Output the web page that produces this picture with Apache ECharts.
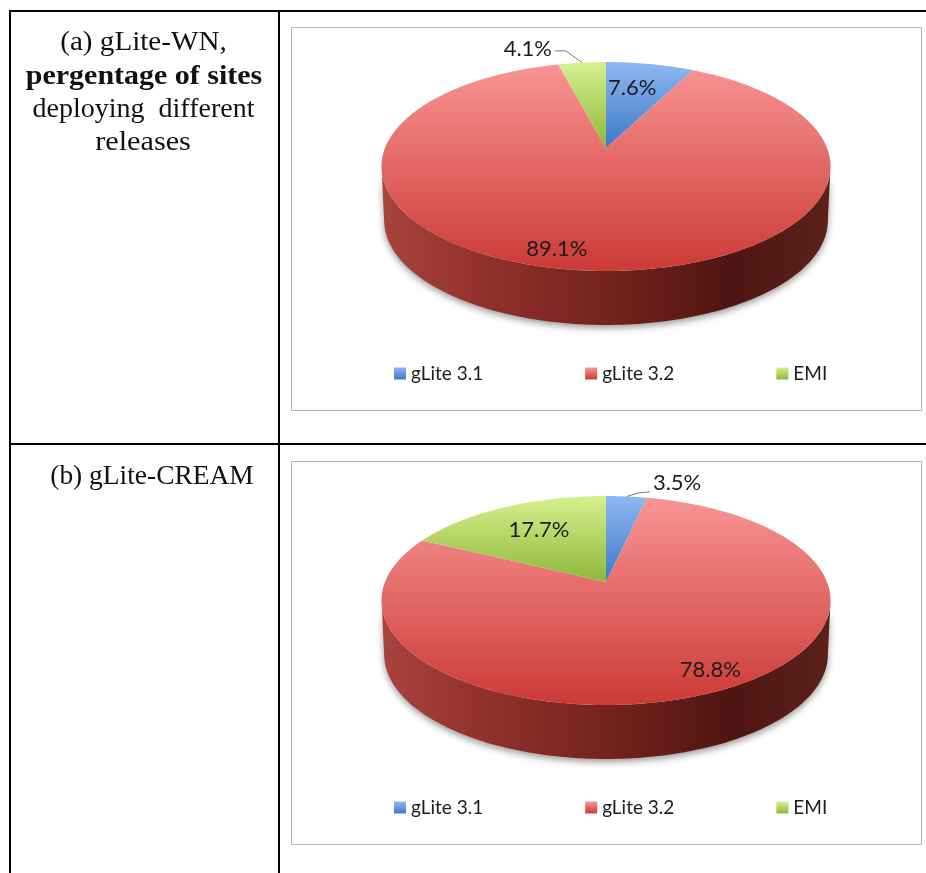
<!DOCTYPE html>
<html>
<head>
<meta charset="utf-8">
<style>html,body{margin:0;padding:0;background:#fff}#c{width:926px;height:873px}</style>
<script src="https://cdn.jsdelivr.net/npm/echarts@6/dist/echarts.min.js"></script>
</head>
<body>
<div id="c"></div>
<script>
// ---- data ----
var categories = ['gLite 3.1', 'gLite 3.2', 'EMI'];
var valuesWN = [7.6, 89.1, 4.1];
var valuesCREAM = [3.5, 78.8, 17.7];
var labelsWN = ['7.6%', '89.1%', '4.1%'];
var labelsCREAM = ['3.5%', '78.8%', '17.7%'];

// ---- label placement, in the plane of the pie (unit disc: x right, y towards the viewer) ----
var labelPlaneWN = [[0.132, -0.665], [-0.189, 0.85], [-0.428, -1.185]];
var labelPlaneCREAM = [[0.389, -1.185], [0.409, 0.75], [-0.334, -0.568]];

// ---- styles ----
var topStops = [
  [{o:0,c:'#8fb8f0'},{o:1,c:'#3a78c9'}],
  [{o:0,c:'#f99494'},{o:1,c:'#cb3a36'}],
  [{o:0,c:'#d6f08f'},{o:1,c:'#8fb83a'}]
];
var wallStops = [
  {o:0,c:'#a8433e'},{o:0.28,c:'#8c2d29'},{o:0.55,c:'#6f201c'},{o:0.78,c:'#4f1512'},{o:1,c:'#5c211b'}
];
function grad(stops){
  return new echarts.graphic.LinearGradient(0,0,0,1,stops.map(function(s){return {offset:s.o,color:s.c};}));
}

// ---- perspective of the pie plane ----
var PIE = {cx:606, a:221, b:101.2, p:-0.177, depth:54, lowerScale:0.988};
function project(u, v, y0){
  var w = 1 + PIE.p * v;
  return [PIE.cx + PIE.a * u / w, y0 + PIE.b * v / w];
}
function rim(theta, y0){ return project(Math.sin(theta), -Math.cos(theta), y0); }
function lowerRim(theta, y0){
  var pt = rim(theta, y0);
  return [PIE.cx + (pt[0]-PIE.cx)*PIE.lowerScale, pt[1] + PIE.depth];
}
var FRONT0 = Math.acos(PIE.p);           // widest point on the right
var FRONT1 = 2*Math.PI - FRONT0;         // widest point on the left

function sliceSeries(values, labels, planes, apexY, index){
  var total = values.reduce(function(s,x){return s+x;},0);
  var before = values.slice(0,index).reduce(function(s,x){return s+x;},0);
  return {
    type:'custom', name:categories[index], coordinateSystem:'none',
    itemStyle:{color:grad(topStops[index])},
    silent:true, animation:false,
    data:[[values[index]]],
    renderItem:function(params, api){
      var t0 = before/total*2*Math.PI;
      var t1 = t0 + api.value(0)/total*2*Math.PI;
      var children = [];
      // side wall: only the part of the slice on the front half
      var w0 = Math.max(t0,FRONT0), w1 = Math.min(t1,FRONT1);
      if (w1 > w0){
        var upper=[], lower=[], n=Math.ceil((w1-w0)/0.02);
        for (var i=0;i<=n;i++){
          var t=w0+(w1-w0)*i/n;
          upper.push(rim(t,apexY));
          lower.unshift(lowerRim(t,apexY));
        }
        children.push({
          type:'polygon', shape:{points:upper.concat(lower)},
          style:{
            fill:new echarts.graphic.LinearGradient(PIE.cx-224,0,PIE.cx+224,0,
              wallStops.map(function(s){return {offset:s.o,color:s.c};}),true),
            shadowBlur:7, shadowColor:'rgba(70,70,70,0.55)', shadowOffsetY:3
          }
        });
      }
      // top face
      var pts=[project(0,0,apexY)], m=Math.ceil((t1-t0)/0.02);
      for (var j=0;j<=m;j++){ pts.push(rim(t0+(t1-t0)*j/m,apexY)); }
      children.push({type:'polygon', shape:{points:pts}, style:{fill:grad(topStops[index])}});
      // value label
      var lp = project(planes[index][0], planes[index][1], apexY);
      children.push({type:'text', x:lp[0], y:lp[1], style:{
        text:labels[index], fill:'#1c1c1c', font:'22px Lato',
        align:'center', verticalAlign:'middle'
      }});
      // leader line for labels outside the rim
      var outside = planes[index][0]*planes[index][0]+planes[index][1]*planes[index][1] > 1;
      if (outside){
        var mid=(t0+t1)/2, end=rim(mid,apexY);
        var dir = lp[0] < end[0] ? 1 : -1;
        var sx = lp[0]+dir*27, sy = lp[1]+ (dir>0?2:9);
        children.push({type:'polyline', shape:{points:[[sx,sy],[sx+dir*11,sy+(dir>0?0:1)],end]},
          style:{stroke:'#7a7a7a', lineWidth:1, fill:'none'}});
      }
      return {type:'group', children:children};
    }
  };
}

var series=[];
[0,1,2].forEach(function(i){ series.push(sliceSeries(valuesWN,labelsWN,labelPlaneWN,148,i)); });
[0,1,2].forEach(function(i){ series.push(sliceSeries(valuesCREAM,labelsCREAM,labelPlaneCREAM,582,i)); });

function legendAt(top){
  return {data:categories, left:394, top:top, orient:'horizontal', itemWidth:12, itemHeight:12,
    itemGap:102, icon:'rect', selectedMode:false, padding:0,
    textStyle:{fontFamily:'Lato', fontSize:19, color:'#1c1c1c', padding:[0,0,0,0]}};
}

var LINE='#000';
var SERIF='"Liberation Serif"';
function line(x1,y1,x2,y2){
  return {type:'line', shape:{x1:x1,y1:y1,x2:x2,y2:y2}, style:{stroke:LINE,lineWidth:2}, silent:true};
}
function frame(x,y,w,h){
  return {type:'rect', shape:{x:x,y:y,width:w,height:h}, style:{fill:'#fff',stroke:'#b4b4b4',lineWidth:1}, silent:true, z:-1};
}
function cellText(x,y,text,bold,sx){
  return {type:'text', x:x, y:y, scaleX:sx||1, silent:true, style:{text:text, fill:'#111',
    font:(bold?'bold ':'')+'28px '+SERIF, align:'center', verticalAlign:'middle'}};
}

var option={
  backgroundColor:'#fff',
  animation:false,
  legend:[legendAt(364),legendAt(798)],
  series:series,
  graphic:{elements:[
    frame(291.5,27.5,630,383), frame(291.5,461.5,630,383),
    line(9,11,926,11), line(9,444,926,444),
    line(10,10,10,873), line(279,10,279,873),
    cellText(143.5,43,'(a) gLite-WN,',false,1.04),
    cellText(144,77,'pergentage of sites',true,1.07),
    cellText(143.5,110,'deploying  different',false,1.0),
    cellText(143,143,'releases',false,1.08),
    cellText(152,477,'(b) gLite-CREAM',false,0.98)
  ]}
};
var chart=echarts.init(document.getElementById('c'),null,{renderer:'canvas'});
chart.setOption(option);
</script>
</body>
</html>
